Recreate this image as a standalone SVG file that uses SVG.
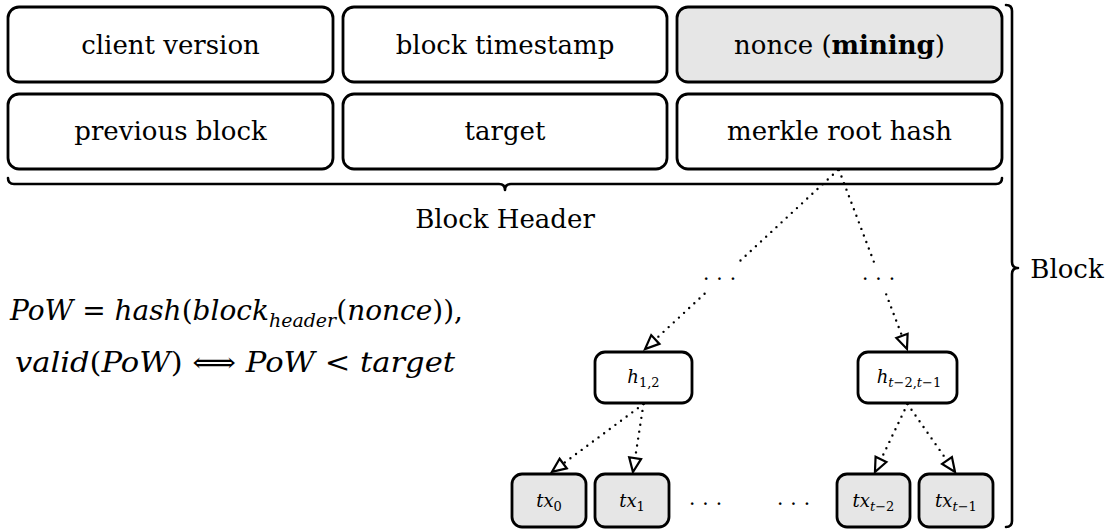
<svg xmlns="http://www.w3.org/2000/svg" width="1116" height="532" viewBox="0 0 1116 532">
  <defs>
    <style>
      text { font-family: "DejaVu Serif", "Liberation Serif", "Noto Serif", Tinos, serif; }
      .box { stroke: #000; stroke-width: 2.8; fill: #fff; }
      .gray { fill: #e6e6e6; }
      .lbl { font-size: 26px; fill: #000; text-anchor: middle; }
      .math { font-size: 28px; fill: #000; }
      .it { font-style: italic; }
      .small { font-size: 18px; fill: #000; text-anchor: middle; }
      .dots { font-size: 20px; fill: #000; letter-spacing: 7px; }
      .edge { fill: none; stroke: #000; stroke-width: 2.4; stroke-linecap: round; stroke-dasharray: 0 7; }
      .brace { fill: none; stroke: #000; stroke-width: 2.6; stroke-linejoin: round; stroke-linecap: round; }
    </style>
    <marker id="open-tri" markerUnits="userSpaceOnUse" markerWidth="20" markerHeight="20" viewBox="-2 -8 20 16" refX="0" refY="0" orient="auto">
      <path d="M0,-6 L14,0 L0,6 Z" fill="#fff" stroke="#000" stroke-width="2.2" stroke-linejoin="miter"/>
    </marker>
  </defs>

  <!-- header fields -->
  <g id="client-version">
    <rect class="box" x="8" y="7" width="325" height="75" rx="11"/>
    <text class="lbl" x="170.5" y="54">client version</text>
  </g>
  <g id="block-timestamp">
    <rect class="box" x="343" y="7" width="324" height="75" rx="11"/>
    <text class="lbl" x="505" y="54">block timestamp</text>
  </g>
  <g id="nonce">
    <rect class="box gray" x="677" y="7" width="325" height="75" rx="11"/>
    <text class="lbl" x="839.5" y="54">nonce (<tspan font-weight="bold">mining</tspan>)</text>
  </g>
  <g id="previous-block">
    <rect class="box" x="8" y="94" width="325" height="75" rx="11"/>
    <text class="lbl" x="170.5" y="140">previous block</text>
  </g>
  <g id="target">
    <rect class="box" x="343" y="94" width="324" height="75" rx="11"/>
    <text class="lbl" x="505" y="140">target</text>
  </g>
  <g id="merkle-root">
    <rect class="box" x="677" y="94" width="325" height="75" rx="11"/>
    <text class="lbl" x="839.5" y="140">merkle root hash</text>
  </g>

  <!-- braces -->
  <g id="header-brace">
    <path class="brace" d="M8,178 Q8,184 14,184 H499 Q505,184 505,190 Q505,184 511,184 H996 Q1002,184 1002,178"/>
    <text class="lbl" x="505" y="228">Block Header</text>
  </g>
  <g id="block-brace">
    <path class="brace" d="M1006,5 Q1012,5 1012,11 V262 Q1012,268 1018,268 Q1012,268 1012,274 V521 Q1012,527 1006,527"/>
    <text class="lbl" x="1067" y="278">Block</text>
  </g>

  <!-- proof-of-work condition -->
  <g id="formula">
    <text class="math" x="10" y="320" textLength="453" lengthAdjust="spacingAndGlyphs"><tspan class="it">PoW</tspan> = <tspan class="it">hash</tspan>(<tspan class="it">block</tspan><tspan class="it" font-size="19" dy="7">header</tspan><tspan dy="-7">(</tspan><tspan class="it">nonce</tspan>)),</text>
    <text class="math" x="15" y="372" textLength="440" lengthAdjust="spacingAndGlyphs"><tspan class="it">valid</tspan>(<tspan class="it">PoW</tspan>) ⟺ <tspan class="it">PoW</tspan> &lt; <tspan class="it">target</tspan></text>
  </g>

  <!-- merkle tree edges -->
  <g id="connectors">
    <line class="edge" x1="838" y1="170" x2="655.3" y2="339.5" marker-end="url(#open-tri)"/>
    <line class="edge" x1="839" y1="170" x2="902" y2="335.9" marker-end="url(#open-tri)"/>
    <line class="edge" x1="643.5" y1="404" x2="563.2" y2="463.6" marker-end="url(#open-tri)"/>
    <line class="edge" x1="643.5" y1="404" x2="635.1" y2="458.2" marker-end="url(#open-tri)"/>
    <line class="edge" x1="907.5" y1="404" x2="881" y2="459.4" marker-end="url(#open-tri)"/>
    <line class="edge" x1="907.5" y1="404" x2="947" y2="460.5" marker-end="url(#open-tri)"/>
    <!-- ellipsis labels sitting on the upper edges -->
    <rect x="700" y="264" width="40" height="27" fill="#fff"/>
    <text class="dots" x="703" y="280">...</text>
    <rect x="859" y="264" width="40" height="27" fill="#fff"/>
    <text class="dots" x="862" y="280">...</text>
  </g>

  <!-- inner hash nodes -->
  <g id="h12">
    <rect class="box" x="595" y="352" width="97" height="51" rx="10"/>
    <text class="small" x="643.5" y="383"><tspan class="it">h</tspan><tspan font-size="13" dy="4">1,2</tspan></text>
  </g>
  <g id="ht">
    <rect class="box" x="858" y="352" width="99" height="51" rx="10"/>
    <text class="small" x="909" y="383"><tspan class="it">h</tspan><tspan font-size="13" dy="4"><tspan class="it">t</tspan>−2,<tspan class="it">t</tspan>−1</tspan></text>
  </g>

  <!-- transactions -->
  <g id="tx0">
    <rect class="box gray" x="512" y="474" width="74" height="53" rx="10"/>
    <text class="small" x="549" y="507"><tspan class="it">tx</tspan><tspan font-size="13" dy="4">0</tspan></text>
  </g>
  <g id="tx1">
    <rect class="box gray" x="595" y="474" width="74" height="53" rx="10"/>
    <text class="small" x="632" y="507"><tspan class="it">tx</tspan><tspan font-size="13" dy="4">1</tspan></text>
  </g>
  <g id="tx-gap">
    <text class="dots" x="689" y="505">...</text>
    <text class="dots" x="777" y="505">...</text>
  </g>
  <g id="tx-t2">
    <rect class="box gray" x="837" y="474" width="73" height="53" rx="10"/>
    <text class="small" x="873.5" y="507"><tspan class="it">tx</tspan><tspan font-size="13" dy="4"><tspan class="it">t</tspan>−2</tspan></text>
  </g>
  <g id="tx-t1">
    <rect class="box gray" x="919" y="474" width="74" height="53" rx="10"/>
    <text class="small" x="956" y="507"><tspan class="it">tx</tspan><tspan font-size="13" dy="4"><tspan class="it">t</tspan>−1</tspan></text>
  </g>
</svg>
